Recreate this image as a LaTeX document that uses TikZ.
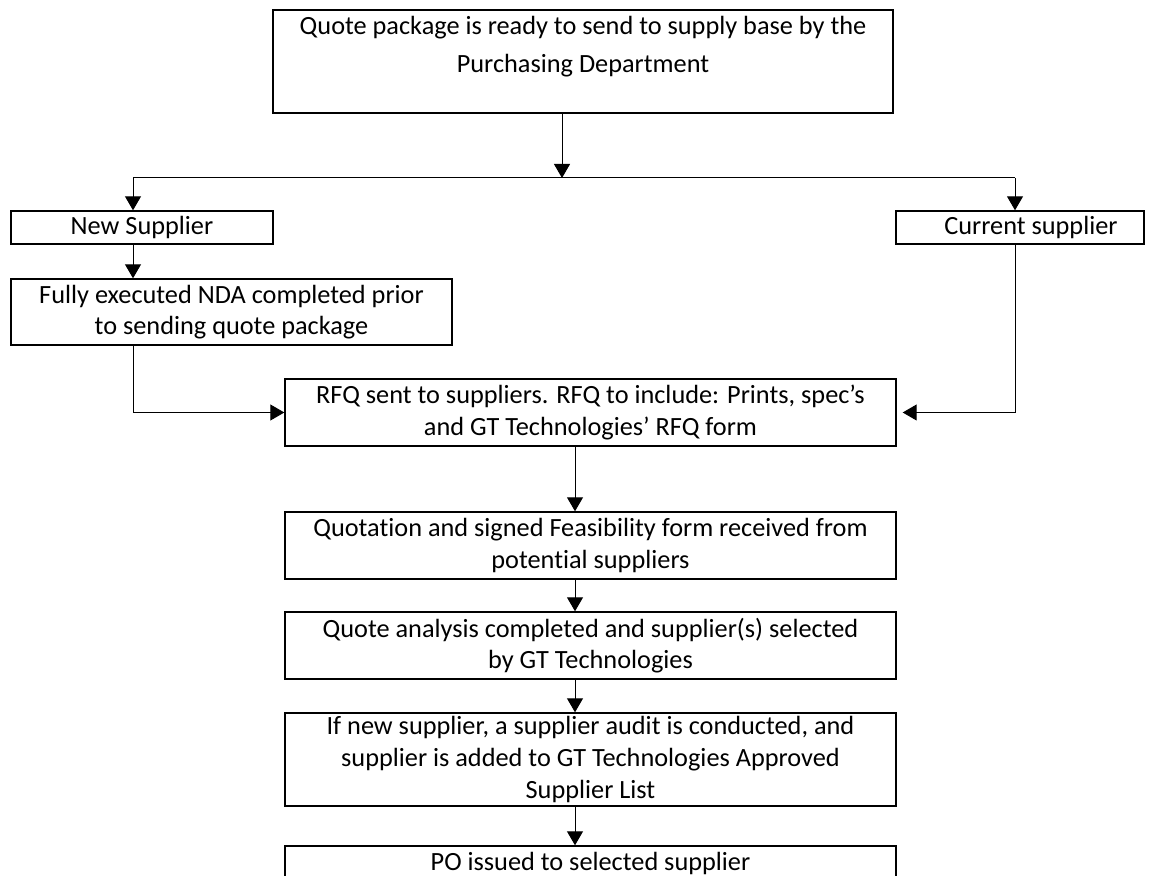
\documentclass[tikz,border=0pt]{standalone}
\usepackage{fontspec}
\setmainfont{Carlito}[Ligatures=NoCommon]
\usetikzlibrary{arrows.meta}
\tikzset{
  stepbox/.style={draw, line width=0.7pt, inner sep=0pt, align=center,
    minimum width=305.5pt, minimum height=33.5pt},
  flow/.style={->, line width=0.5pt},
  >={Triangle[length=7pt,width=8pt]}
}

\begin{document}
\begin{tikzpicture}[x=0.5pt,y=-0.5pt,font=\fontsize{13.15}{15.8}\selectfont]
\useasboundingbox (0,0) rectangle (1151,876);
\clip (0,0) rectangle (1151,876);

\node[stepbox, minimum width=310pt, minimum height=51.5pt] (pkg) at (583,61.5)
  {Quote package is ready to send to supply base by the\\[3.2pt]
   Purchasing Department\rule[-17pt]{0pt}{0pt}};
\node[stepbox, minimum width=131pt, minimum height=16.5pt] (newsup) at (142,227.5) {New Supplier};
\node[stepbox, minimum width=124pt, minimum height=16.5pt] (cursup) at (1020,227.5) {\hspace*{11pt}Current supplier};
\node[stepbox, minimum width=220.5pt, minimum height=33pt] (nda) at (231.5,312)
  {Fully executed NDA completed prior\\to sending quote package};
\node[stepbox] (rfq) at (590.5,412.5)
  {RFQ sent to suppliers. RFQ to include: Prints, spec’s\\and GT Technologies’ RFQ form};
\node[stepbox] (quo) at (590.5,545.5)
  {Quotation and signed Feasibility form received from\\potential suppliers};
\node[stepbox] (qa) at (590.5,645.5)
  {Quote analysis completed and supplier(s) selected\\by GT Technologies};
\node[stepbox, minimum height=46.5pt] (ifnew) at (590.5,759.5)
  {If new supplier, a supplier audit is conducted, and\\supplier is added to GT Technologies Approved\\Supplier List};
\node[stepbox, minimum height=17pt] (po) at (590.5,863) {PO issued to selected supplier};

% split into new / current supplier
\coordinate (split) at (562,178);
\coordinate (lt) at (133,178);
\coordinate (rt) at (1015,178);
\coordinate (col) at (575,0);
\draw[flow] (pkg.south -| split) -- (split);
\draw[line width=0.5pt] (lt) -- (rt);
\draw[flow] (lt) -- (lt |- newsup.north);
\draw[flow] (rt) -- (rt |- cursup.north);
\draw[flow] (newsup.south -| lt) -- (nda.north -| lt);
\draw[flow] (nda.south -| lt) |- (rfq.west);
\draw[flow] (cursup.south -| rt) |- ([xshift=3pt]rfq.east);

\foreach \a/\b in {rfq/quo, quo/qa, qa/ifnew, ifnew/po}
  \draw[flow] (\a.south -| col) -- (\b.north -| col);
\end{tikzpicture}
\end{document}
